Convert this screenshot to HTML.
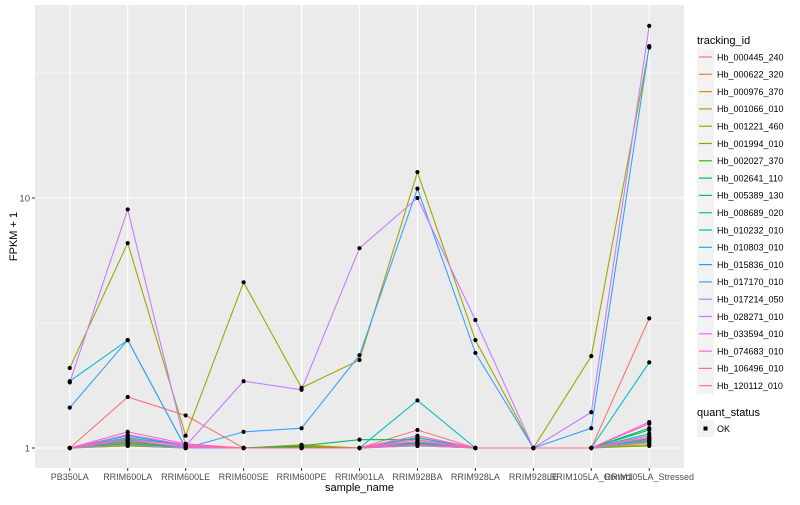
<!DOCTYPE html>
<html><head><meta charset="utf-8"><style>
body{margin:0;background:#fff;font-family:"Liberation Sans",Arial,sans-serif}
svg text{font-family:"Liberation Sans",Arial,sans-serif}
</style></head><body>
<svg id="chart" width="800" height="500" xmlns="http://www.w3.org/2000/svg"></svg>
<script>
const samples=["PB350LA","RRIM600LA","RRIM600LE","RRIM600SE","RRIM600PE","RRIM901LA","RRIM928BA","RRIM928LA","RRIM928LE","RRIM105LA_Control","RRIM105LA_Stressed"];
const seriesIds=["Hb_000445_240","Hb_000622_320","Hb_000976_370","Hb_001066_010","Hb_001221_460","Hb_001994_010","Hb_002027_370","Hb_002641_110","Hb_005389_130","Hb_008689_020","Hb_010232_010","Hb_010803_010","Hb_015836_010","Hb_017170_010","Hb_017214_050","Hb_028271_010","Hb_033594_010","Hb_074683_010","Hb_106496_010","Hb_120112_010"];
const seriesColors=["#F8766D","#EA8331","#D89000","#C09B00","#A3A500","#7CAE00","#39B600","#00BB4E","#00BF7D","#00C1A3","#00BFC4","#00BAE0","#00B0F6","#35A2FF","#9590FF","#C77CFF","#E76BF3","#FA62DB","#FF62BC","#FF6C91"];
const s000445=[1,1.6,1.35,1,1,1,1.18,1,1,1,3.3];
const s000622=[1,1.05,1,1,1.02,1,1.1,1,1,1,1.08];
const s000976=[1,1.03,1,1,1.03,1,1.04,1,1,1,1.05];
const s001066=[1,1.02,1,1,1.01,1,1.03,1,1,1,1.03];
const s001221=[2.09,6.6,1.12,4.6,1.74,2.25,12.7,2.7,1,2.33,40];
const s001994=[1,1.02,1,1,1,1,1.02,1,1,1,1.02];
const s002027=[1,1.04,1,1,1.01,1,1.05,1,1,1,1.1];
const s002641=[1,1.08,1,1,1.02,1.08,1.08,1,1,1,1.2];
const s005389=[1,1.06,1,1,1,1,1.06,1,1,1,1.18];
const s008689=[1,1.1,1.02,1,1,1,1.1,1,1,1,1.14];
const s010232=[1.85,2.7,1,1,1,1,1.55,1,1,1,2.2];
const s010803=[1,1.08,1,1,1,1,1.04,1,1,1,1.07];
const s015836=[1,1.12,1.02,1,1,1,1.06,1,1,1,1.09];
const s017170=[1.45,2.7,1,1.16,1.2,2.35,10.9,2.4,1,1.2,40.5];
const s017214=[1,1.03,1,1,1,1,1.02,1,1,1,1.06];
const s028271=[1.83,9,1.02,1.85,1.71,6.3,10,3.25,1,1.39,48.8];
const s033594=[1,1.13,1.03,1,1,1,1.08,1,1,1,1.25];
const s074683=[1,1.09,1.02,1,1,1,1.12,1,1,1,1.12];
const s106496=[1,1.16,1.04,1,1,1,1.06,1,1,1,1.27];
const s120112=[1,1.07,1.01,1,1,1,1.03,1,1,1,1.1];
const seriesValues=[s000445,s000622,s000976,s001066,s001221,s001994,s002027,s002641,s005389,s008689,s010232,s010803,s015836,s017170,s017214,s028271,s033594,s074683,s106496,s120112];
const yTickVals=[1,10];
const yTickLabels=["1","10"];

const NS="http://www.w3.org/2000/svg";
const svg=document.getElementById("chart");
const P={l:35,r:684,t:5,b:468};
const step=(P.r-P.l)/(samples.length-1+1.2);
function xs(i){return P.l+0.6*step+i*step;}
function ys(v){return 448-250*Math.log10(v);}
function mk(tag,attrs,parent){const e=document.createElementNS(NS,tag);for(const k in attrs)e.setAttribute(k,attrs[k]);(parent||svg).appendChild(e);return e;}

const panel=mk("rect",{x:P.l,y:P.t,width:P.r-P.l,height:P.b-P.t,fill:"#EBEBEB"});


// minor grid
[Math.sqrt(10),Math.pow(10,1.5)].forEach(v=>{const g=mk("line",{x1:P.l,x2:P.r,y1:ys(v),y2:ys(v),stroke:"#fff","stroke-width":0.6});

});
yTickVals.forEach((v,i)=>{const g=mk("line",{x1:P.l,x2:P.r,y1:ys(v),y2:ys(v),stroke:"#fff","stroke-width":1.1});


const t=mk("line",{x1:P.l-3,x2:P.l,y1:ys(v),y2:ys(v),stroke:"#333","stroke-width":1});


const l=mk("text",{x:P.l-5,y:ys(v)+3.5,"text-anchor":"end","font-size":"9.5",fill:"#4d4d4d"});l.textContent=yTickLabels[i];

});
samples.forEach((s,i)=>{const g=mk("line",{x1:xs(i),x2:xs(i),y1:P.t,y2:P.b,stroke:"#fff","stroke-width":1.1});


const t=mk("line",{x1:xs(i),x2:xs(i),y1:P.b,y2:P.b+3,stroke:"#333","stroke-width":1});


const l=mk("text",{x:xs(i),y:P.b+12,"text-anchor":"middle","font-size":"9",fill:"#4d4d4d"});l.textContent=s;

});
seriesValues.forEach((vals,k)=>{const pl=mk("polyline",{points:vals.map((v,i)=>xs(i)+","+ys(v)).join(" "),fill:"none",stroke:seriesColors[k],"stroke-width":1.1});

});
seriesValues.forEach((vals,k)=>{vals.forEach((v,i)=>{const c=mk("circle",{cx:xs(i),cy:ys(v),r:2.1,fill:"#000"});

});});
const xt=mk("text",{x:(P.l+P.r)/2,y:491,"text-anchor":"middle","font-size":"11",fill:"#000"});xt.textContent="sample_name";


const yt=mk("text",{x:0,y:0,"text-anchor":"middle","font-size":"11",fill:"#000",transform:"translate(17,"+((P.t+P.b)/2)+") rotate(-90)"});yt.textContent="FPKM + 1";


// legend
const lt=mk("text",{x:697,y:44,"font-size":"11",fill:"#000"});lt.textContent="tracking_id";


seriesIds.forEach((id,k)=>{const y=57+k*17.3;
const b=mk("rect",{x:697,y:y-8.5,width:17,height:17,fill:"#F2F2F2"});


const ln=mk("line",{x1:699,x2:712,y1:y,y2:y,stroke:seriesColors[k],"stroke-width":1.2});


const t=mk("text",{x:717,y:y+3.3,"font-size":"9",fill:"#000"});t.textContent=id;

});
const qt=mk("text",{x:697,y:416,"font-size":"11",fill:"#000"});qt.textContent="quant_status";


const qb=mk("rect",{x:697,y:420,width:17,height:17,fill:"#F2F2F2"});


const qp=mk("rect",{x:703.5,y:426.5,width:4,height:4,fill:"#000"});


const qtt=mk("text",{x:717,y:432,"font-size":"9",fill:"#000"});qtt.textContent="OK";


</script>
</body></html>
